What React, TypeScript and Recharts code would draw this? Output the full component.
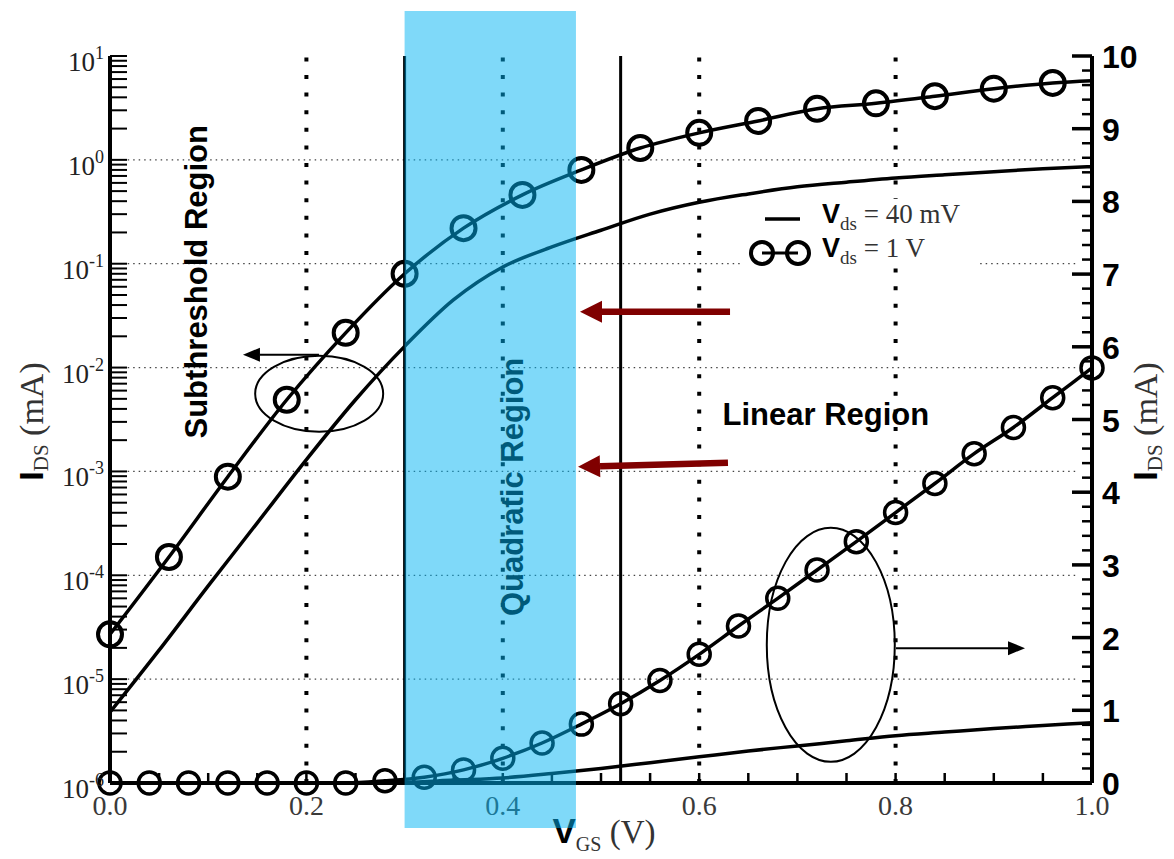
import { LineChart, Line, XAxis, YAxis, ReferenceLine, ReferenceArea, ReferenceDot, Legend, Label } from "recharts"

const SANS = "'Liberation Sans', Arial, Helvetica, sans-serif"
const SERIF = "'Liberation Serif', 'Times New Roman', serif"

// Vds = 1 V, log scale (left axis), markers every 0.06 V
const vgsLog1V = [0, 0.06, 0.12, 0.18, 0.24, 0.3, 0.36, 0.42, 0.48, 0.54, 0.6, 0.66, 0.72, 0.78, 0.84, 0.9, 0.96, 1.0]
const idsLog1V = [2.7e-5, 1.5e-4, 8.9e-4, 4.9e-3, 0.0216, 0.08, 0.22, 0.46, 0.8, 1.3, 1.82, 2.37, 3.1, 3.5, 4.1, 4.85, 5.5, 5.78]

// Vds = 1 V, linear scale (right axis), markers every 0.04 V
const vgsLin1V = [0, 0.04, 0.08, 0.12, 0.16, 0.2, 0.24, 0.28, 0.32, 0.36, 0.4, 0.44, 0.48, 0.52, 0.56, 0.6, 0.64, 0.68, 0.72, 0.76, 0.8, 0.84, 0.88, 0.92, 0.96, 1.0]
const idsLin1V = [0, 0, 0, 0, 0, 0, 0, 0.03, 0.08, 0.18, 0.34, 0.55, 0.81, 1.09, 1.41, 1.77, 2.16, 2.54, 2.93, 3.32, 3.72, 4.12, 4.53, 4.89, 5.3, 5.71]

// Vds = 40 mV, no markers
const vgs40mV = [0, 0.05, 0.1, 0.15, 0.2, 0.25, 0.3, 0.35, 0.4, 0.45, 0.5, 0.55, 0.6, 0.65, 0.7, 0.75, 0.8, 0.85, 0.9, 0.95, 1.0]
const idsLog40mV = [4.8e-6, 1.9e-5, 7.9e-5, 3.2e-4, 1.3e-3, 4.9e-3, 0.016, 0.045, 0.093, 0.145, 0.21, 0.3, 0.39, 0.47, 0.55, 0.61, 0.67, 0.72, 0.77, 0.82, 0.86]
const idsLin40mV = [0, 0, 0, 0, 0, 0, 0.01, 0.04, 0.07, 0.13, 0.2, 0.28, 0.36, 0.44, 0.51, 0.58, 0.65, 0.7, 0.75, 0.79, 0.83]

const decades = [1e-6, 1e-5, 1e-4, 1e-3, 1e-2, 1e-1, 1, 10]
const gridDecades = [1e-5, 1e-4, 1e-3, 1e-2, 1e-1, 1]
const dottedVgs = [0.2, 0.4, 0.6, 0.8]
const solidVgs = [0.3, 0.52]

const log1V = vgsLog1V.map((v, i) => ({ v, ids: idsLog1V[i] }))
const lin1V = vgsLin1V.map((v, i) => ({ v, ids: idsLin1V[i] }))
const log40 = vgs40mV.map((v, i) => ({ v, ids: idsLog40mV[i] }))
const lin40 = vgs40mV.map((v, i) => ({ v, ids: idsLin40mV[i] }))

const logTicks: number[] = []
decades.slice(0, -1).forEach((d) => {
  for (let k = 1; k <= 9; k++) logTicks.push(d * k)
})
logTicks.push(10)

const linTicks: number[] = []
for (let i = 0; i <= 50; i++) linTicks.push(Math.round(i * 2) / 10)

const vgsTicks: number[] = []
for (let i = 0; i <= 20; i++) vgsTicks.push(i / 20)

const LogTick = (props: any) => {
  const { x, y, payload } = props
  const lg = Math.log10(payload.value)
  const exp = Math.round(lg)
  const major = Math.abs(lg - exp) < 1e-6
  return (
    <g>
      <line x1={x} x2={x + 17} y1={y} y2={y} stroke="#000" strokeWidth={2} />
      {major && (
        <text x={x - 6} y={y + 15} textAnchor="end" fontFamily={SERIF} fontSize={27} fill="#222">
          10
          <tspan dy={-12} fontSize={18}>
            {exp < 0 ? `-${-exp}` : `${exp}`}
          </tspan>
        </text>
      )}
    </g>
  )
}

const LinTick = (props: any) => {
  const { x, y, payload } = props
  const v = payload.value
  const major = Math.abs(v - Math.round(v)) < 1e-6
  return (
    <g>
      <line x1={x - (major ? 20 : 10)} x2={x} y1={y} y2={y} stroke="#000" strokeWidth={major ? 3.5 : 2.5} />
      {major && (
        <text x={x + 10} y={y + 12} fontFamily={SANS} fontWeight="bold" fontSize={32} fill="#000">
          {Math.round(v)}
        </text>
      )}
    </g>
  )
}

const BottomTick = (props: any) => {
  const { x, y, payload } = props
  const v = payload.value
  const labelled = Math.abs(v * 5 - Math.round(v * 5)) < 1e-6
  return (
    <g>
      <line x1={x} x2={x} y1={y} y2={y - 10} stroke="#000" strokeWidth={2.5} />
      {labelled && (
        <text x={x} y={y + 32} textAnchor="middle" fontFamily={SERIF} fontSize={28} fill="#3a3a3a">
          {v.toFixed(1)}
        </text>
      )}
    </g>
  )
}

const TopTick = (props: any) => {
  const { x, y } = props
  return <line x1={x} x2={x} y1={y} y2={y + 9} stroke="#000" strokeWidth={2.5} />
}

const IdsTitle = (dx: number) => (props: any) => {
  const vb = props.viewBox || {}
  const cx = vb.x + dx
  const cy = vb.y + vb.height / 2 + 2
  return (
    <text transform={`translate(${cx}, ${cy}) rotate(-90)`} textAnchor="middle" fill="#000">
      <tspan fontFamily={SANS} fontWeight="bold" fontSize={34}>I</tspan>
      <tspan fontFamily={SERIF} fontSize={21} dy={5} fill="#333">DS</tspan>
      <tspan fontFamily={SERIF} fontSize={34} dy={-5} fill="#333"> (mA)</tspan>
    </text>
  )
}

const VgsTitle = (props: any) => {
  const vb = props.viewBox || {}
  return (
    <text x={vb.x + vb.width / 2 + 3} y={vb.y + 60} textAnchor="middle" fill="#000">
      <tspan fontFamily={SANS} fontWeight="bold" fontSize={35}>V</tspan>
      <tspan fontFamily={SERIF} fontSize={20} dy={8} fill="#333">GS</tspan>
      <tspan fontFamily={SERIF} fontSize={33} dy={-8} fill="#333"> (V)</tspan>
    </text>
  )
}

const arrow = (color: string, width: number, head: number, halfW: number) => (p: any) => {
  const { x1, y1, x2, y2 } = p
  const len = Math.hypot(x2 - x1, y2 - y1) || 1
  const ux = (x2 - x1) / len
  const uy = (y2 - y1) / len
  const bx = x2 - ux * head
  const by = y2 - uy * head
  return (
    <g>
      <line x1={x1} y1={y1} x2={bx} y2={by} stroke={color} strokeWidth={width} />
      <polygon
        points={`${x2},${y2} ${bx - uy * halfW},${by + ux * halfW} ${bx + uy * halfW},${by - ux * halfW}`}
        fill={color}
      />
    </g>
  )
}

const ellipse = (rx: number, ry: number) => (p: any) => (
  <ellipse cx={p.cx} cy={p.cy} rx={rx} ry={ry} fill="none" stroke="#000" strokeWidth={2} />
)

const regionText = (label: string, rotate: boolean) => (p: any) => (
  <text
    transform={`translate(${p.cx}, ${p.cy})${rotate ? " rotate(-90)" : ""}`}
    textAnchor="middle"
    dy="0.36em"
    fontFamily={SANS}
    fontWeight="bold"
    fontSize={31}
    fill="#000"
  >
    {label}
  </text>
)

const legendItems = [
  { name: "V", sub: "ds", rest: " = 40 mV", marker: false },
  { name: "V", sub: "ds", rest: " = 1 V", marker: true },
]

const LegendBox = () => (
  <div style={{ width: 238, height: 68, background: "#fff" }}>
    <svg width={238} height={68} style={{ overflow: "visible" }}>
      {legendItems.map((it, i) => {
        const cy = 20 + i * 34
        return (
          <g key={i}>
            {it.marker ? (
              <g>
                <line x1={22} x2={58} y1={cy} y2={cy} stroke="#000" strokeWidth={3} />
                <circle cx={22} cy={cy} r={11} fill="none" stroke="#000" strokeWidth={4} />
                <circle cx={58} cy={cy} r={11} fill="none" stroke="#000" strokeWidth={4} />
              </g>
            ) : (
              <line x1={25} x2={60} y1={cy} y2={cy} stroke="#000" strokeWidth={3.5} />
            )}
            <text x={82} y={cy + 4} fill="#000">
              <tspan fontFamily={SANS} fontWeight="bold" fontSize={27}>{it.name}</tspan>
              <tspan fontFamily={SERIF} fontSize={19} dy={7} fill="#333">{it.sub}</tspan>
              <tspan fontFamily={SERIF} fontSize={27} dy={-7} fill="#333">{it.rest}</tspan>
            </text>
          </g>
        )
      })}
    </svg>
  </div>
)

const bigDot = (r: number, sw: number, skipLast: boolean) => (p: any) => {
  if (skipLast && p.payload && p.payload.v >= 0.999) return <g key={`n-${p.index}`} />
  return <circle key={`c-${p.index}`} cx={p.cx} cy={p.cy} r={r} fill="none" stroke="#000" strokeWidth={sw} />
}

export default function App() {
  return (
    <div style={{ width: 1174, height: 859, position: "relative" }}>
      <style>{"body{margin:0;background:#fff}"}</style>
      <LineChart width={1174} height={859} margin={{ top: 56, right: 0, bottom: 0, left: 0 }}>
        <XAxis
          type="number"
          dataKey="v"
          domain={[0, 1]}
          ticks={vgsTicks}
          interval={0}
          tickSize={0}
          tickMargin={0}
          tickLine={false}
          tick={BottomTick}
          axisLine={{ stroke: "#000", strokeWidth: 4 }}
          height={76}
        >
          <Label content={VgsTitle} />
        </XAxis>
        <XAxis
          xAxisId="top"
          orientation="top"
          type="number"
          dataKey="v"
          domain={[0, 1]}
          ticks={vgsTicks}
          interval={0}
          tickSize={0}
          tickMargin={0}
          tickLine={false}
          tick={TopTick}
          axisLine={{ stroke: "#000", strokeWidth: 4 }}
          height={0}
        />
        <YAxis
          yAxisId="log"
          type="number"
          scale="log"
          domain={[1e-6, 10]}
          allowDataOverflow
          ticks={logTicks}
          interval={0}
          tickSize={0}
          tickMargin={0}
          tickLine={false}
          tick={LogTick}
          axisLine={{ stroke: "#000", strokeWidth: 4 }}
          width={110}
        >
          <Label content={IdsTitle(43)} />
        </YAxis>
        <YAxis
          yAxisId="lin"
          orientation="right"
          type="number"
          domain={[0, 10]}
          ticks={linTicks}
          interval={0}
          tickSize={0}
          tickMargin={0}
          tickLine={false}
          tick={LinTick}
          axisLine={{ stroke: "#000", strokeWidth: 4 }}
          width={82}
        >
          <Label content={IdsTitle(65)} />
        </YAxis>

        {gridDecades.map((d) => (
          <ReferenceLine
            key={`g${d}`}
            yAxisId="log"
            segment={[{ x: 0.018, y: d }, { x: 0.985, y: d }]}
            stroke="#444"
            strokeWidth={1.2}
            strokeDasharray="1.5 4"
          />
        ))}
        {dottedVgs.map((v) => (
          <ReferenceLine key={`d${v}`} yAxisId="log" x={v} stroke="#000" strokeWidth={4} strokeDasharray="4 13.6" />
        ))}
        {solidVgs.map((v) => (
          <ReferenceLine key={`s${v}`} yAxisId="log" x={v} stroke="#000" strokeWidth={3} />
        ))}

        <Line yAxisId="log" data={log40} dataKey="ids" type="monotone" stroke="#000" strokeWidth={3.5} dot={false} isAnimationActive={false} />
        <Line yAxisId="lin" data={lin40} dataKey="ids" type="monotone" stroke="#000" strokeWidth={3.5} dot={false} isAnimationActive={false} />
        <Line yAxisId="log" data={log1V} dataKey="ids" type="monotone" stroke="#000" strokeWidth={3.5} dot={bigDot(12, 4, true)} isAnimationActive={false} />
        <Line yAxisId="lin" data={lin1V} dataKey="ids" type="monotone" stroke="#000" strokeWidth={3.5} dot={bigDot(11, 3.5, false)} isAnimationActive={false} />

        <ReferenceDot yAxisId="log" x={0.213} y={5.6e-3} r={0} shape={ellipse(64, 38)} />
        <ReferenceDot yAxisId="lin" x={0.734} y={1.9} r={0} shape={ellipse(64, 117)} />
        <ReferenceLine yAxisId="log" segment={[{ x: 0.2128, y: 0.0133 }, { x: 0.1354, y: 0.0133 }]} shape={arrow("#000", 2, 17, 7)} />
        <ReferenceLine yAxisId="lin" segment={[{ x: 0.8004, y: 1.854 }, { x: 0.9318, y: 1.854 }]} shape={arrow("#000", 2, 17, 7)} />
        <ReferenceLine yAxisId="log" segment={[{ x: 0.6314, y: 0.0344 }, { x: 0.4786, y: 0.0344 }]} shape={arrow("#800000", 6.5, 22, 11)} />
        <ReferenceLine yAxisId="log" segment={[{ x: 0.6293, y: 1.21e-3 }, { x: 0.4766, y: 1.11e-3 }]} shape={arrow("#800000", 6.5, 22, 11)} />

        <ReferenceDot yAxisId="log" x={0.0876} y={0.067} r={0} shape={regionText("Subthreshold Region", true)} />
        <ReferenceDot yAxisId="log" x={0.409} y={7.1e-4} r={0} shape={regionText("Quadratic Region", true)} />
        <ReferenceDot yAxisId="lin" x={0.729} y={5.08} r={0} shape={regionText("Linear Region", false)} />

        <Legend
          layout="vertical"
          align="center"
          verticalAlign="middle"
          content={LegendBox}
          wrapperStyle={{ position: "absolute", left: 740, top: 199, width: 238, height: 68 }}
        />

        <ReferenceArea
          yAxisId="lin"
          x1={0.3}
          x2={0.4745}
          y1={-0.62}
          y2={10.62}
          ifOverflow="visible"
          fill="#00b4f4"
          fillOpacity={0.5}
          stroke="none"
          {...({ zIndex: 3000 } as any)}
        />
      </LineChart>
    </div>
  )
}
